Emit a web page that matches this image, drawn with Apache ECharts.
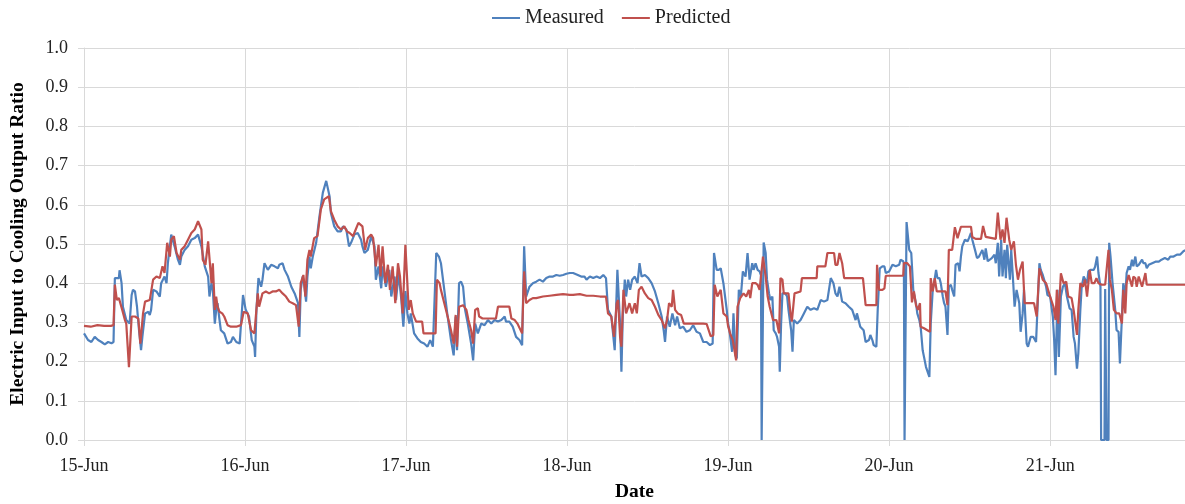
<!DOCTYPE html>
<html>
<head>
<meta charset="utf-8">
<script src="https://cdn.jsdelivr.net/npm/echarts@6/dist/echarts.min.js"></script>
<style>
html, body { margin: 0; padding: 0; background: #fff; }
#chart { width: 1185px; height: 504px; }
</style>
</head>
<body>
<div id="chart"></div>
<script>
// x = hours since 15-Jun 00:00, y = ratio
const dayLabels = ["15-Jun", "16-Jun", "17-Jun", "18-Jun", "19-Jun", "20-Jun", "21-Jun"];
const seriesNames = ["Measured", "Predicted"];

const measured = [
  [0.0,0.272],[0.6,0.255],[1.1,0.250],[1.6,0.263],[2.1,0.255],[2.6,0.250],[3.1,0.244],[3.6,0.250],[4.1,0.247],[4.4,0.250],
  [4.6,0.413],[5.2,0.413],[5.3,0.433],[5.6,0.400],[5.8,0.340],[6.3,0.306],[6.8,0.297],[7.1,0.370],[7.3,0.383],[7.6,0.379],
  [7.9,0.340],[8.2,0.280],[8.5,0.229],[8.7,0.263],[9.1,0.323],[9.6,0.327],[9.8,0.319],[10.0,0.332],[10.3,0.383],[10.8,0.379],
  [11.3,0.366],[11.5,0.400],[12.0,0.417],[12.3,0.400],[12.5,0.451],[13.0,0.524],[13.5,0.494],[14.0,0.460],[14.3,0.447],[14.5,0.468],
  [15.0,0.485],[15.5,0.494],[16.0,0.511],[16.5,0.515],[17.0,0.524],[17.5,0.494],[18.0,0.443],[18.5,0.417],[18.7,0.366],[19.0,0.400],
  [19.2,0.383],[19.5,0.297],[19.7,0.332],[19.9,0.349],[20.2,0.306],[20.4,0.280],[20.9,0.272],[21.4,0.246],[21.9,0.250],[22.2,0.263],
  [22.7,0.250],[23.2,0.246],[23.4,0.246],[23.7,0.370],
  [24.1,0.332],[24.6,0.315],[25.0,0.255],[25.4,0.238],[25.5,0.212],[25.7,0.332],[26.0,0.413],[26.4,0.391],[26.6,0.409],[26.9,0.451],
  [27.4,0.434],[27.9,0.447],[28.4,0.443],[28.9,0.438],[29.1,0.447],[29.6,0.451],[29.9,0.434],[30.4,0.417],[30.9,0.391],[31.4,0.374],
  [31.9,0.349],[32.1,0.263],[32.3,0.383],[32.6,0.417],[32.8,0.400],[33.1,0.353],[33.3,0.417],[33.6,0.468],[33.8,0.438],[34.1,0.468],
  [34.6,0.503],[35.1,0.571],[35.6,0.631],[36.1,0.661],[36.3,0.656],[36.6,0.622],[36.8,0.579],[37.3,0.545],[37.8,0.532],[38.3,0.532],
  [38.6,0.545],[39.1,0.537],[39.5,0.494],[39.8,0.503],[40.3,0.524],[40.8,0.528],[41.3,0.511],[41.5,0.494],[41.8,0.477],[42.3,0.485],
  [42.8,0.520],[43.3,0.494],[43.5,0.409],[43.9,0.443],[44.3,0.387],[44.5,0.443],[45.0,0.391],[45.5,0.434],[45.8,0.366],[46.3,0.417],
  [46.5,0.357],[46.9,0.426],[47.3,0.357],[47.6,0.289],[47.9,0.380],
  [48.2,0.323],[48.5,0.297],[48.7,0.323],[49.2,0.272],[49.7,0.259],[50.2,0.250],[50.7,0.246],[51.2,0.238],[51.6,0.255],[52.0,0.238],
  [52.2,0.238],[52.5,0.477],[52.9,0.468],[53.2,0.451],[53.7,0.383],[54.2,0.315],[54.7,0.255],[55.1,0.216],[55.4,0.315],[55.6,0.229],
  [55.9,0.400],[56.2,0.404],[56.5,0.391],[56.8,0.332],[57.2,0.297],[57.7,0.246],[58.0,0.203],[58.3,0.297],[58.7,0.272],[59.2,0.297],
  [59.7,0.293],[60.2,0.306],[60.7,0.297],[61.2,0.306],[61.7,0.302],[62.2,0.306],[62.7,0.315],[62.9,0.302],[63.4,0.302],[63.9,0.289],
  [64.4,0.263],[64.9,0.255],[65.3,0.242],[65.6,0.494],[65.9,0.366],[66.4,0.391],[66.9,0.400],[67.4,0.404],[67.9,0.409],[68.4,0.404],
  [68.9,0.413],[69.4,0.417],[69.9,0.417],[70.4,0.421],[70.9,0.419],[71.4,0.421],[71.9,0.424],[72.4,0.426],
  [72.9,0.426],[73.6,0.421],[74.1,0.417],[74.6,0.417],[74.9,0.409],[75.4,0.417],[75.9,0.413],[76.4,0.417],[76.9,0.413],[77.4,0.421],
  [77.8,0.413],[78.1,0.332],[78.6,0.315],[79.1,0.229],[79.5,0.434],[79.7,0.438],[79.9,0.297],[80.1,0.174],[80.3,0.315],[80.6,0.409],
  [80.8,0.366],[81.1,0.409],[81.4,0.383],[81.7,0.409],[82.1,0.417],[82.5,0.400],[82.8,0.451],[83.1,0.417],[83.6,0.421],[84.1,0.413],
  [84.6,0.400],[85.1,0.379],[85.6,0.349],[86.1,0.315],[86.4,0.280],[86.6,0.250],[86.9,0.315],[87.3,0.289],[87.7,0.323],[88.1,0.293],
  [88.4,0.315],[88.8,0.285],[89.3,0.289],[89.8,0.276],[90.3,0.280],[90.8,0.293],[91.3,0.276],[91.8,0.272],[92.3,0.250],[92.8,0.250],
  [93.3,0.242],[93.7,0.246],[93.9,0.477],[94.3,0.434],[94.6,0.434],[94.9,0.438],[95.3,0.400],[95.8,0.332],[96.0,0.297],
  [96.2,0.280],[96.6,0.225],[96.8,0.323],[97.1,0.216],[97.3,0.208],[97.6,0.383],[97.9,0.366],[98.2,0.430],[98.6,0.417],[98.9,0.477],
  [99.2,0.409],[99.6,0.451],[99.8,0.434],[100.1,0.451],[100.4,0.434],[100.7,0.430],[100.9,0.420],[101.0,0.0],[101.2,0.0],[101.3,0.504],
  [101.6,0.477],[101.8,0.409],[102.1,0.374],[102.3,0.357],[102.6,0.366],[102.8,0.280],[103.1,0.272],[103.3,0.263],[103.6,0.238],[103.7,0.174],
  [103.9,0.297],[104.1,0.374],[104.3,0.374],[104.5,0.374],[104.8,0.366],[105.0,0.332],[105.4,0.280],[105.6,0.225],[105.8,0.306],[106.0,0.302],
  [106.3,0.297],[106.5,0.293],[106.8,0.306],[107.3,0.323],[107.8,0.340],[108.3,0.332],[108.8,0.336],[109.3,0.332],[109.8,0.357],[110.3,0.353],
  [110.8,0.357],[111.3,0.413],[111.7,0.400],[112.0,0.374],[112.3,0.366],[112.6,0.391],[113.0,0.353],[113.5,0.349],[114.0,0.340],[114.5,0.332],
  [115.0,0.306],[115.2,0.323],[115.7,0.289],[116.2,0.280],[116.5,0.250],[117.0,0.255],[117.2,0.268],[117.5,0.255],[117.7,0.242],[118.1,0.238],
  [118.3,0.332],[118.6,0.438],[119.0,0.443],[119.3,0.443],[119.5,0.426],
  [120.0,0.430],[120.5,0.447],[121.0,0.443],[121.5,0.447],[121.7,0.460],[122.1,0.456],[122.2,0.450],[122.3,0.0],[122.6,0.556],[123.0,0.485],
  [123.3,0.477],[123.6,0.383],[124.0,0.349],[124.2,0.323],[124.5,0.306],[124.7,0.289],[125.0,0.229],[125.2,0.212],[125.5,0.186],[125.7,0.182],
  [126.0,0.161],[126.2,0.297],[126.5,0.383],[126.7,0.400],[127.0,0.434],[127.2,0.413],[127.5,0.413],[127.7,0.400],[128.0,0.366],[128.2,0.349],
  [128.4,0.340],[128.7,0.268],[128.9,0.391],[129.2,0.396],[129.4,0.383],[129.7,0.366],[129.9,0.447],[130.3,0.451],[130.5,0.430],[130.7,0.468],
  [130.9,0.494],[131.3,0.511],[131.7,0.507],[131.9,0.515],[132.2,0.528],[132.4,0.511],[132.8,0.485],[133.1,0.464],[133.4,0.468],[133.9,0.485],
  [134.2,0.460],[134.4,0.489],[134.7,0.456],[135.3,0.464],[135.7,0.473],[135.9,0.451],[136.2,0.503],[136.4,0.417],[136.7,0.511],[136.9,0.417],
  [137.2,0.485],[137.4,0.413],[137.6,0.498],[138.0,0.409],[138.2,0.485],[138.5,0.400],[138.7,0.340],[139.0,0.383],[139.4,0.349],[139.6,0.276],
  [139.9,0.323],[140.1,0.383],[140.5,0.246],[140.7,0.238],[141.1,0.263],[141.5,0.263],[141.9,0.250],[142.1,0.246],[142.4,0.451],[142.6,0.434],
  [142.9,0.421],[143.1,0.409],[143.4,0.391],[143.6,0.370],[144.0,0.366],
  [144.4,0.315],[144.6,0.255],[144.8,0.165],[145.1,0.383],[145.3,0.212],[145.6,0.366],[145.9,0.391],[146.2,0.400],[146.5,0.366],[146.9,0.336],
  [147.2,0.332],[147.5,0.263],[147.7,0.246],[148.0,0.182],[148.2,0.221],[148.5,0.332],[148.7,0.391],[149.0,0.417],[149.2,0.413],[149.5,0.400],
  [149.7,0.430],[150.0,0.434],[150.2,0.438],[150.5,0.434],[150.7,0.442],[151.0,0.468],[151.2,0.426],[151.5,0.391],[151.6,0.0],[152.1,0.0],
  [152.2,0.385],[152.3,0.385],[152.4,0.0],[152.7,0.0],[152.8,0.503],[153.0,0.468],[153.3,0.400],[153.7,0.332],[153.9,0.280],[154.2,0.276],
  [154.4,0.195],[154.7,0.315],[154.9,0.400],[155.2,0.366],[155.4,0.426],[155.7,0.443],[155.9,0.434],[156.2,0.460],[156.4,0.443],[156.7,0.468],
  [156.9,0.443],[157.2,0.447],[157.4,0.451],[157.7,0.460],[157.9,0.451],[158.2,0.451],[158.4,0.438],[158.7,0.447],[159.2,0.451],[159.7,0.455],
  [160.2,0.455],[160.6,0.460],[161.1,0.464],[161.6,0.460],[161.9,0.468],[162.1,0.464],[162.4,0.468],[162.9,0.473],[163.4,0.473],[163.9,0.482],
  [164.2,0.484]
];

const predicted = [
  [0.0,0.291],[1.0,0.289],[2.0,0.293],[3.0,0.291],[4.0,0.291],[4.4,0.293],[4.6,0.396],[4.9,0.357],[5.2,0.362],[5.4,0.366],
  [5.7,0.332],[6.1,0.306],[6.3,0.297],[6.7,0.186],[7.1,0.315],[7.6,0.315],[8.1,0.310],[8.4,0.246],[8.8,0.323],[9.1,0.353],
  [9.8,0.357],[10.3,0.409],[10.8,0.417],[11.3,0.413],[11.7,0.443],[12.0,0.426],[12.4,0.503],[12.8,0.468],[13.0,0.511],[13.4,0.520],
  [13.8,0.477],[14.3,0.460],[14.5,0.485],[15.0,0.494],[15.5,0.511],[16.0,0.528],[16.5,0.537],[17.0,0.558],[17.5,0.537],[17.7,0.460],
  [18.1,0.447],[18.5,0.507],[19.0,0.400],[19.2,0.451],[19.5,0.332],[19.7,0.366],[19.9,0.340],[20.2,0.327],[20.6,0.323],[20.9,0.315],
  [21.4,0.293],[21.9,0.289],[22.7,0.289],[23.4,0.293],[23.8,0.327],
  [24.4,0.323],[24.9,0.280],[25.4,0.272],[25.9,0.374],[26.1,0.340],[26.6,0.374],[27.1,0.379],[27.6,0.374],[28.1,0.379],[28.6,0.379],
  [29.1,0.383],[29.6,0.374],[30.1,0.366],[30.6,0.353],[31.1,0.349],[31.6,0.344],[32.0,0.289],[32.3,0.400],[32.7,0.421],[33.0,0.366],
  [33.3,0.460],[33.6,0.485],[33.8,0.468],[34.3,0.515],[34.8,0.520],[35.3,0.588],[35.8,0.614],[36.5,0.622],[36.8,0.584],[37.3,0.562],
  [37.8,0.545],[38.3,0.537],[38.8,0.545],[39.2,0.532],[39.6,0.528],[40.1,0.520],[40.5,0.537],[40.9,0.554],[41.5,0.545],[41.9,0.485],
  [42.3,0.515],[42.8,0.524],[43.1,0.515],[43.5,0.443],[43.9,0.498],[44.2,0.417],[44.5,0.494],[44.9,0.400],[45.3,0.447],[45.6,0.383],
  [46.0,0.443],[46.4,0.349],[46.8,0.451],[47.1,0.417],[47.5,0.323],[47.9,0.498],
  [48.1,0.499],[48.4,0.332],[48.7,0.357],[49.0,0.323],[49.5,0.302],[50.0,0.302],[50.4,0.302],[50.6,0.272],[51.2,0.272],[52.0,0.272],
  [52.4,0.272],[52.6,0.409],[53.0,0.400],[53.2,0.383],[53.7,0.349],[54.2,0.315],[54.7,0.280],[55.1,0.246],[55.4,0.319],[55.6,0.238],
  [55.9,0.340],[56.5,0.344],[57.0,0.332],[57.3,0.306],[57.7,0.280],[58.0,0.246],[58.3,0.332],[58.7,0.336],[58.9,0.315],[59.4,0.310],
  [60.4,0.310],[61.4,0.310],[61.7,0.340],[62.4,0.340],[63.4,0.340],[63.7,0.310],[64.2,0.306],[64.6,0.297],[65.3,0.272],[65.6,0.430],
  [65.9,0.349],[66.4,0.357],[66.9,0.362],[67.4,0.362],[68.4,0.366],[69.4,0.368],[70.4,0.370],[71.4,0.372],[72.4,0.370],
  [72.9,0.370],[73.9,0.372],[74.9,0.368],[75.9,0.368],[76.9,0.366],[77.8,0.366],[78.1,0.323],[78.6,0.315],[79.0,0.263],[79.4,0.349],
  [79.6,0.357],[79.9,0.263],[80.1,0.238],[80.4,0.383],[80.8,0.323],[81.3,0.349],[81.7,0.323],[82.1,0.349],[82.4,0.323],[82.7,0.383],
  [83.1,0.391],[83.6,0.374],[84.1,0.362],[84.6,0.357],[85.1,0.340],[85.6,0.319],[86.1,0.306],[86.6,0.285],[86.9,0.306],[87.2,0.349],
  [87.6,0.340],[87.8,0.383],[88.1,0.332],[88.5,0.323],[89.0,0.319],[89.4,0.297],[90.3,0.297],[91.3,0.297],[92.3,0.297],[92.8,0.296],
  [93.4,0.265],[93.8,0.267],[94.0,0.396],[94.4,0.366],[94.9,0.383],[95.3,0.323],[95.8,0.315],[96.0,0.290],
  [96.3,0.272],[96.7,0.255],[97.2,0.203],[97.4,0.340],[97.8,0.362],[98.3,0.374],[98.7,0.366],[99.1,0.383],[99.3,0.362],[99.6,0.400],
  [100.1,0.400],[100.4,0.396],[100.7,0.383],[101.2,0.468],[101.6,0.417],[101.9,0.366],[102.2,0.340],[102.7,0.306],[103.2,0.306],[103.6,0.272],
  [103.8,0.413],[104.1,0.409],[104.3,0.374],[105.0,0.374],[105.3,0.323],[105.5,0.302],[105.9,0.374],[106.8,0.379],[107.0,0.413],[109.2,0.413],
  [109.3,0.443],[110.5,0.443],[110.8,0.477],[111.8,0.477],[112.0,0.447],[112.3,0.447],[112.6,0.477],[113.0,0.451],[113.3,0.413],[116.1,0.413],
  [116.5,0.344],[118.1,0.344],[118.2,0.447],[118.5,0.383],[119.0,0.383],[119.3,0.387],[119.5,0.419],
  [122.1,0.419],[122.2,0.451],[122.7,0.451],[123.1,0.443],[123.4,0.351],[123.7,0.379],[124.0,0.344],[124.3,0.332],[124.6,0.349],[124.7,0.289],
  [125.2,0.285],[125.7,0.280],[126.1,0.276],[126.2,0.413],[126.5,0.379],[126.8,0.413],[127.1,0.379],[128.4,0.379],[128.7,0.344],[128.9,0.485],
  [129.4,0.485],[129.8,0.543],[130.2,0.515],[130.7,0.544],[132.2,0.544],[132.4,0.518],[132.9,0.513],[133.7,0.513],[134.0,0.546],[134.4,0.518],
  [135.9,0.513],[136.2,0.580],[136.6,0.511],[136.9,0.537],[137.2,0.503],[137.5,0.567],[137.9,0.511],[138.2,0.485],[138.6,0.507],[138.9,0.447],
  [139.2,0.409],[139.5,0.434],[139.9,0.455],[140.2,0.349],[141.6,0.349],[142.0,0.315],[142.4,0.438],[142.9,0.409],[143.4,0.400],[144.0,0.366],
  [144.5,0.340],[144.8,0.306],[145.0,0.383],[145.2,0.297],[145.6,0.425],[146.0,0.400],[146.4,0.404],[146.7,0.366],[147.2,0.362],[147.5,0.332],
  [148.0,0.268],[148.2,0.332],[148.5,0.400],[148.9,0.391],[149.2,0.409],[149.5,0.366],[149.9,0.434],[150.2,0.400],[150.6,0.400],[150.9,0.413],
  [151.2,0.400],[151.7,0.396],[152.2,0.396],[152.7,0.485],[152.9,0.409],[153.2,0.383],[153.5,0.332],[153.9,0.323],[154.3,0.323],[154.7,0.297],
  [154.9,0.383],[155.2,0.323],[155.4,0.400],[155.7,0.421],[155.9,0.409],[156.2,0.391],[156.4,0.417],[156.7,0.413],[156.9,0.391],[157.2,0.417],
  [157.4,0.413],[157.7,0.391],[158.2,0.426],[158.4,0.396],[164.2,0.396]
];

const chart = echarts.init(document.getElementById("chart"));
const serif = "Liberation Serif";
const gridColor = "#d9d9d9";

chart.setOption({
  animation: false,
  color: ["#4f81bd", "#c0504d"],
  legend: {
    top: 3,
    left: 487,
    itemWidth: 28,
    itemHeight: 2,
    itemGap: 18,
    icon: "rect",
    textStyle: { fontFamily: serif, fontSize: 20, color: "#222" },
    data: seriesNames
  },
  grid: { left: 84, right: 0, top: 48, bottom: 64, outerBoundsMode: "none", containLabel: false },
  xAxis: {
    type: "value",
    min: 0,
    max: 164.1,
    interval: 24,
    name: "Date",
    nameLocation: "middle",
    nameGap: 42,
    nameTextStyle: { fontFamily: serif, fontSize: 19.5, fontWeight: "bold", color: "#000" },
    axisLine: { show: true, onZero: false, lineStyle: { color: gridColor } },
    axisTick: { show: true, length: 6, lineStyle: { color: gridColor } },
    axisLabel: {
      margin: 17,
      fontFamily: serif,
      fontSize: 18,
      color: "#222",
      showMaxLabel: false,
      formatter: function (v) {
        return v % 24 === 0 ? dayLabels[v / 24] || "" : "";
      }
    },
    splitLine: { show: true, lineStyle: { color: gridColor } }
  },
  yAxis: {
    type: "value",
    min: 0,
    max: 1,
    interval: 0.1,
    name: "Electric Input to Cooling Output Ratio",
    nameLocation: "middle",
    nameGap: 56,
    nameTextStyle: { fontFamily: serif, fontSize: 19.5, fontWeight: "bold", color: "#000" },
    axisLine: { show: true, lineStyle: { color: gridColor } },
    axisTick: { show: true, length: 6, lineStyle: { color: gridColor } },
    axisLabel: {
      margin: 16,
      fontFamily: serif,
      fontSize: 18,
      color: "#222",
      formatter: function (v) { return v.toFixed(1); }
    },
    splitLine: { show: true, lineStyle: { color: gridColor } }
  },
  series: [
    {
      name: seriesNames[0],
      type: "line",
      data: measured,
      showSymbol: false,
      lineStyle: { width: 2.2 },
      z: 2
    },
    {
      name: seriesNames[1],
      type: "line",
      data: predicted,
      showSymbol: false,
      lineStyle: { width: 2.2 },
      z: 3
    }
  ]
});
</script>
</body>
</html>
